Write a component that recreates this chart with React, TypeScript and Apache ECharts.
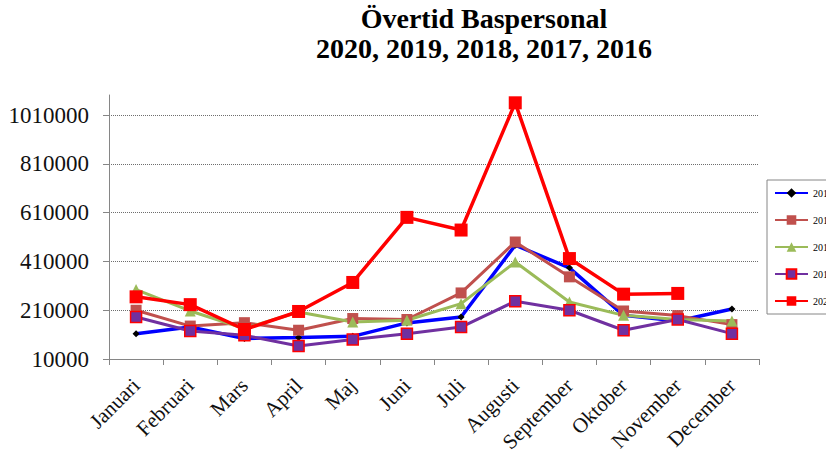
import React, { useEffect, useRef } from "react";
import * as echarts from "echarts";

// Monthly overtime hours for base staff, one line per year
const months = [
  "Januari", "Februari", "Mars", "April", "Maj", "Juni",
  "Juli", "Augusti", "September", "Oktober", "November", "December",
];
const years = ["2016", "2017", "2018", "2019", "2020"];
const values2016 = [114000, 141000, 94000, 98000, 103000, 158000, 182000, 477000, 384000, 189000, 166000, 215000];
const values2017 = [210000, 145000, 159000, 128000, 176000, 172000, 281000, 490000, 347000, 207000, 188000, 151000];
const values2018 = [295000, 207000, 135000, 203000, 162000, 169000, 237000, 408000, 244000, 189000, 172000, 166000];
const values2019 = [182000, 125000, 107000, 63000, 90000, 114000, 141000, 247000, 210000, 128000, 172000, 114000];
const values2020 = [265000, 233000, 131000, 205000, 324000, 591000, 539000, 1061000, 422000, 276000, 279000, null];
const yTicks = [10000, 210000, 410000, 610000, 810000, 1010000];

const SERIF = '"Liberation Serif", "Times New Roman", serif';
const AXIS_GRAY = "#868686";

export default function App() {
  const ref = useRef<HTMLDivElement>(null);

  useEffect(() => {
    if (!ref.current) return;
    const chart = echarts.init(ref.current, undefined, { renderer: "svg" });

    const lineSeries = (
      name: string,
      data: (number | null)[],
      color: string,
      symbol: string,
      symbolSize: number,
      width: number,
      itemStyle: Record<string, unknown>
    ) => ({
      name,
      type: "line",
      data,
      symbol,
      symbolSize,
      showAllSymbol: true,
      connectNulls: false,
      lineStyle: { color, width },
      itemStyle: { color, opacity: 1, ...itemStyle },
      emphasis: { disabled: true },
    });

    chart.setOption({
      animation: false,
      backgroundColor: "#ffffff",
      graphic: [
        {
          type: "text",
          x: 484,
          y: 3,
          style: {
            text: "Övertid Baspersonal\n2020, 2019, 2018, 2017, 2016",
            font: `bold 28px ${SERIF}`,
            lineHeight: 30,
            fill: "#000000",
            textAlign: "center",
          },
        },
      ],
      grid: { left: 109, right: 67, top: 95, bottom: 105, containLabel: false },
      legend: {
        orient: "vertical",
        left: 767,
        top: 180,
        data: years,
        padding: [7, 20, 7, 7],
        itemWidth: 33,
        itemHeight: 12,
        itemGap: 15,
        itemTextGap: 3,
        borderColor: AXIS_GRAY,
        borderWidth: 1,
        backgroundColor: "#ffffff",
        textStyle: { fontFamily: SERIF, fontSize: 10, color: "#000000", lineHeight: 12, height: 12 },
      },
      xAxis: {
        type: "category",
        data: months,
        boundaryGap: true,
        axisLine: { lineStyle: { color: AXIS_GRAY, width: 1 } },
        axisTick: { show: true, length: 6, lineStyle: { color: AXIS_GRAY } },
        axisLabel: {
          rotate: 45,
          margin: 23,
          interval: 0,
          fontFamily: SERIF,
          fontSize: 21,
          color: "#111111",
        },
        splitLine: { show: false },
      },
      yAxis: {
        type: "value",
        min: 10000,
        max: 1093000,
        interval: 200000,
        axisLine: { show: true, lineStyle: { color: AXIS_GRAY, width: 1 } },
        axisTick: { show: true, length: 6, lineStyle: { color: AXIS_GRAY }, customValues: yTicks },
        axisLabel: {
          margin: 20,
          fontFamily: SERIF,
          fontSize: 23,
          color: "#111111",
          customValues: yTicks,
          formatter: (v: number) => String(v),
        },
        splitLine: {
          show: true,
          lineStyle: { color: "#6e6e6e", type: "dotted", width: 1 },
        },
      },
      series: [
        lineSeries("2016", values2016, "#0000ff", "diamond", 7, 3.5, { color: "#000000" }),
        lineSeries("2017", values2017, "#c0504d", "rect", 11, 3, {}),
        lineSeries("2018", values2018, "#9bbb59", "triangle", 11, 3, {}),
        lineSeries("2019", values2019, "#7030a0", "rect", 11, 3, { borderColor: "#ff0000", borderWidth: 1.5 }),
        lineSeries("2020", values2020, "#ff0000", "rect", 13, 3.5, {}),
      ],
    });

    return () => chart.dispose();
  }, []);

  return (
    <div
      ref={ref}
      style={{ position: "absolute", left: 0, top: 0, width: 826, height: 464 }}
    />
  );
}
